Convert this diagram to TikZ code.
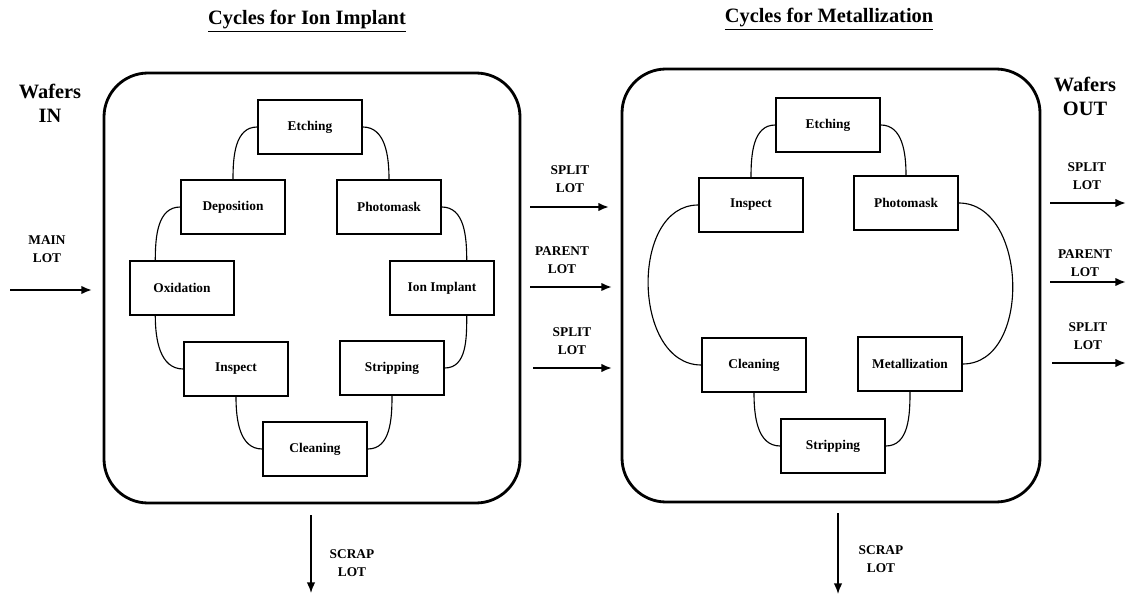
\documentclass[tikz,border=0pt]{standalone}
\usepackage{fontspec}
\setmainfont{Liberation Serif}
\usetikzlibrary{arrows.meta, positioning}
\tikzstyle{box} = [rectangle, 
minimum width=2.6cm, 
minimum height=1.35cm,
align=center, 
draw=black, 
line width=1pt,
font=\bfseries\fontsize{9.5}{11}\selectfont]
\tikzstyle{panel} = [line width=2pt, rounded corners=1.1cm]
\tikzstyle{link} = [line width=0.8pt]
\tikzstyle{arrow} = [-{Latex[length=7.5pt,width=6pt]}, line width=1.4pt]
\tikzstyle{lbl} = [align=center, font=\bfseries\fontsize{9.5}{12.5}\selectfont]
\tikzstyle{head} = [align=center, font=\bfseries\fontsize{14.5}{17}\selectfont]

\begin{document}
\begin{tikzpicture}[x=0.025cm, y=-0.025cm]
				
				% canvas boundary
				\useasboundingbox (0,0) rectangle (1128,596);
				
				% Cycles for Ion Implant
				\node[head] (title1) at (307,21) {\underline{Cycles for Ion Implant}};
				\draw[panel] (104,73) rectangle (520,503);
				\node[box] (etch1) at (310,127) {Etching};
				\node[box] (depo) at (233,207) {Deposition};
				\node[box] (photo1) at (389,207) {Photomask};
				\node[box] (oxid) at (182,288) {Oxidation};
				\node[box] (ion) at (442,288) {Ion Implant};
				\node[box] (insp1) at (236,369) {Inspect};
				\node[box] (strip1) at (392,368) {Stripping};
				\node[box] (clean1) at (315,449) {Cleaning};
				
				% Cycles for Metallization
				\node[head] (title2) at (829,19) {\underline{Cycles for Metallization}};
				\draw[panel] (622,69) rectangle (1040,502);
				\node[box] (etch2) at (828,125) {Etching};
				\node[box] (insp2) at (751,205) {Inspect};
				\node[box] (photo2) at (906,203) {Photomask};
				\node[box] (clean2) at (754,365) {Cleaning};
				\node[box] (metal) at (910,364) {Metallization};
				\node[box] (strip2) at (833,446) {Stripping};
				
				% Labels
				\node[head] (wafin) at (50,103) {Wafers\\IN};
				\node[head] (wafout) at (1085,96) {Wafers\\OUT};
				\node[lbl] (mainlot) at (47,249) {MAIN\\LOT};
				\node[lbl] (split1) at (570,179) {SPLIT\\LOT};
				\node[lbl] (parent1) at (562,260) {PARENT\\LOT};
				\node[lbl] (split2) at (572,341) {SPLIT\\LOT};
				\node[lbl] (split3) at (1087,176) {SPLIT\\LOT};
				\node[lbl] (parent2) at (1085,263) {PARENT\\LOT};
				\node[lbl] (split4) at (1088,336) {SPLIT\\LOT};
				\node[lbl] (scrap1) at (352,563) {SCRAP\\LOT};
				\node[lbl] (scrap2) at (881,559) {SCRAP\\LOT};
				
				% Arrow ends
				\coordinate (main-a) at (10,290);
				\coordinate (main-b) at (92,290);
				\coordinate (split1-a) at (530,207);
				\coordinate (split1-b) at (609,207);
				\coordinate (parent1-a) at (530,287);
				\coordinate (parent1-b) at (612,287);
				\coordinate (split2-a) at (533,368);
				\coordinate (split2-b) at (612,368);
				\coordinate (split3-a) at (1050,203);
				\coordinate (split3-b) at (1126,203);
				\coordinate (parent2-a) at (1050,282);
				\coordinate (parent2-b) at (1126,282);
				\coordinate (split4-a) at (1052,363);
				\coordinate (split4-b) at (1126,363);
				\coordinate (scrap1-a) at (311,515);
				\coordinate (scrap1-b) at (311,593);
				\coordinate (scrap2-a) at (838,513);
				\coordinate (scrap2-b) at (838,594);
				
				% Edges
				\draw[link] (etch1.west) to[out=180, in=90] (depo.north);
				\draw[link] (etch1.east) to[out=0, in=90] (photo1.north);
				\draw[link] (depo.west) to[out=180, in=90] ([xshift=0.65cm]oxid.north west);
				\draw[link] (photo1.east) to[out=0, in=90] ([xshift=-0.7cm]ion.north east);
				\draw[link] ([xshift=0.65cm]oxid.south west) to[out=-90, in=180] (insp1.west);
				\draw[link] ([xshift=-0.7cm]ion.south east) to[out=-90, in=0] (strip1.east);
				\draw[link] (insp1.south) to[out=-90, in=180] (clean1.west);
				\draw[link] (strip1.south) to[out=-90, in=0] (clean1.east);
				
				\draw[link] (etch2.west) to[out=180, in=90] (insp2.north);
				\draw[link] (etch2.east) to[out=0, in=90] (photo2.north);
				\draw[link] (insp2.west) to[out=180, in=180, looseness=1.1] (clean2.west);
				\draw[link] (photo2.east) to[out=0, in=0, looseness=1.1] (metal.east);
				\draw[link] (clean2.south) to[out=-90, in=180] (strip2.west);
				\draw[link] (metal.south) to[out=-90, in=0] (strip2.east);
				
				\draw[arrow] (main-a) -- (main-b);
				\draw[arrow] (split1-a) -- (split1-b);
				\draw[arrow, line width=2pt] (parent1-a) -- (parent1-b);
				\draw[arrow] (split2-a) -- (split2-b);
				\draw[arrow] (split3-a) -- (split3-b);
				\draw[arrow, line width=2pt] (parent2-a) -- (parent2-b);
				\draw[arrow] (split4-a) -- (split4-b);
				\draw[arrow, line width=1pt] (scrap1-a) -- (scrap1-b);
				\draw[arrow, line width=1pt] (scrap2-a) -- (scrap2-b);
				
			\end{tikzpicture}
\end{document}
